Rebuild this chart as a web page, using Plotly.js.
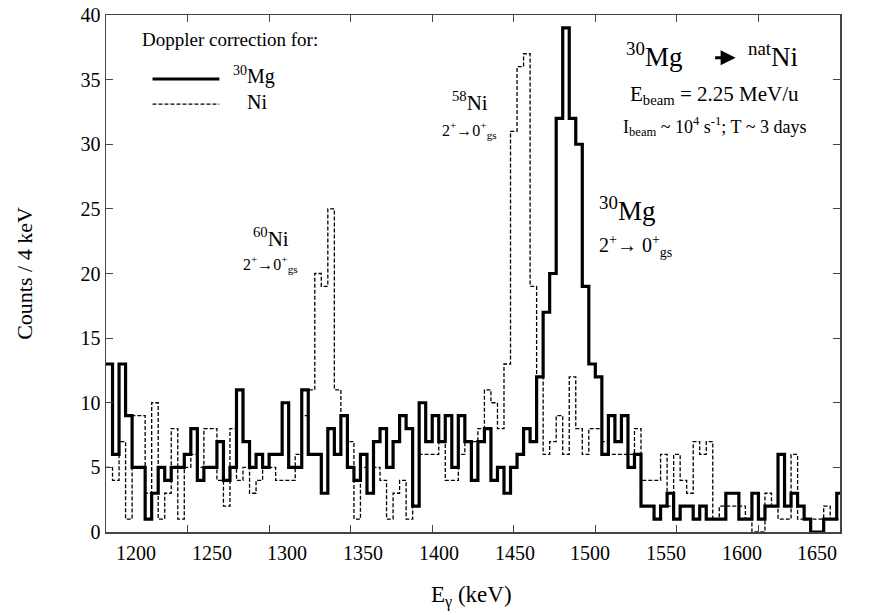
<!DOCTYPE html>
<html>
<head>
<meta charset="utf-8">
<script src="https://cdn.plot.ly/plotly-3.0.1.min.js"></script>
<style>html,body{margin:0;padding:0;background:#fff;}#chart{width:871px;height:615px;}</style>
</head>
<body>
<div id="chart"></div>
<script>
// Histogram binning (keV)
const energyStart = 1200;
const binWidth = 4;

// Counts per 4 keV bin, Doppler corrected for 30Mg (solid)
const mgCounts = [
  13, 6, 13, 9, 5, 5, 1, 3, 5, 4,
  5, 5, 6, 8, 4, 5, 5, 7, 4, 5,
  11, 7, 5, 6, 5, 6, 6, 10, 5, 5,
  11, 6, 6, 3, 8, 6, 9, 5, 4, 6,
  3, 7, 8, 5, 7, 9, 8, 2, 10, 7,
  9, 7, 9, 5, 9, 7, 4, 7, 8, 4,
  5, 3, 5, 6, 8, 7, 12, 17, 20, 32,
  39, 32, 30, 19, 13, 12, 6, 9, 7, 9,
  5, 6, 2, 2, 1, 2, 3, 1, 2, 2,
  1, 2, 1, 1, 1, 3, 3, 1, 1, 3,
  1, 2, 2, 6, 2, 3, 2, 1, 0, 0,
  1, 1, 3
];

// Counts per 4 keV bin, Doppler corrected for Ni (dashed)
const niCounts = [
  5, 4, 7, 1, 9, 9, 3, 10, 1, 3,
  8, 1, 5, 6, 5, 8, 8, 4, 2, 8,
  4, 5, 3, 4, 5, 5, 4, 4, 4, 6,
  9, 11, 20, 19, 25, 11, 9, 7, 1, 5,
  3, 5, 4, 1, 3, 4, 1, 2, 6, 6,
  6, 7, 4, 4, 6, 7, 7, 8, 11, 10,
  8, 13, 31, 36, 37, 19, 12, 6, 7, 9,
  6, 12, 8, 6, 8, 8, 7, 6, 6, 6,
  6, 8, 4, 4, 4, 6, 2, 6, 4, 3,
  7, 6, 7, 1, 2, 2, 2, 2, 1, 0,
  0, 3, 2, 1, 1, 6, 1, 1, 1, 1,
  2, 1, 1
];

const xTickVals = [1200, 1250, 1300, 1350, 1400, 1450, 1500, 1550, 1600, 1650];
const xTickLabels = ['1200', '1250', '1300', '1350', '1400', '1450', '1500', '1550', '1600', '1650'];
const yTickVals = [0, 5, 10, 15, 20, 25, 30, 35, 40];

function stepXY(counts) {
  const xs = [], ys = [];
  counts.forEach((c, i) => { xs.push(energyStart + i * binWidth); ys.push(c); });
  xs.push(energyStart + counts.length * binWidth);
  ys.push(counts[counts.length - 1]);
  return {xs, ys};
}

const mg = stepXY(mgCounts);
const ni = stepXY(niCounts);

const serif = '"Liberation Serif", "Times New Roman", serif';

const traces = [
  {x: ni.xs, y: ni.ys, type: 'scatter', mode: 'lines', line: {shape: 'hv', color: '#000', width: 1.3, dash: '4px,2px'}, showlegend: false, hoverinfo: 'skip'},
  {x: mg.xs, y: mg.ys, type: 'scatter', mode: 'lines', line: {shape: 'hv', color: '#000', width: 3.2}, showlegend: false, hoverinfo: 'skip'}
];

// x tick labels in the reference are spread evenly inside the frame
const labelLeft = 0.041, labelRight = 0.969;
const xLabelAnnotations = xTickLabels.map((t, i) => ({
  xref: 'paper', yref: 'paper', x: labelLeft + (labelRight - labelLeft) * i / (xTickLabels.length - 1), y: -0.041,
  text: t, showarrow: false, xanchor: 'center', yanchor: 'middle', font: {family: serif, size: 20}
}));

const layout = {
  width: 871, height: 615,
  margin: {l: 106, r: 31, t: 15, b: 83},
  paper_bgcolor: '#fff', plot_bgcolor: '#fff',
  font: {family: serif, size: 20, color: '#000'},
  showlegend: false,
  xaxis: {
    range: [1200, 1650], tickvals: xTickVals, showticklabels: false, ticks: 'inside', ticklen: 7, tickcolor: '#444',
    showline: true, linecolor: '#444', linewidth: 1.5, mirror: 'ticks', showgrid: false, zeroline: false
  },
  yaxis: {
    range: [0, 40], tickvals: yTickVals, ticks: 'inside', ticklen: 7, tickcolor: '#444',
    showline: true, linecolor: '#444', linewidth: 1.5, mirror: 'ticks', showgrid: false, zeroline: false,
    tickfont: {family: serif, size: 20},
    title: {text: 'Counts / 4 keV', font: {family: serif, size: 22}, standoff: 42}
  },
  shapes: [
    {type: 'line', xref: 'x', yref: 'y', x0: 1228.5, x1: 1269.5, y0: 35.05, y1: 35.05, line: {color: '#000', width: 3.2}},
    {type: 'line', xref: 'x', yref: 'y', x0: 1228.5, x1: 1269.5, y0: 33.1, y1: 33.1, line: {color: '#000', width: 1.3, dash: '4px,2px'}}
  ],
  annotations: xLabelAnnotations.concat([
    {xref: 'paper', yref: 'paper', x: 0.4986, y: -0.1257, text: 'E<sub>γ</sub> (keV)', showarrow: false, xanchor: 'center', yanchor: 'middle', font: {family: serif, size: 23}},

    {xref: 'x', yref: 'y', x: 1276, y: 38.1, text: 'Doppler correction for:', showarrow: false, xanchor: 'center', yanchor: 'middle', font: {family: serif, size: 19}},
    {xref: 'x', yref: 'y', x: 1276.5, y: 35.3, text: '<sup>30</sup>Mg', showarrow: false, xanchor: 'left', yanchor: 'middle', font: {family: serif, size: 20}},
    {xref: 'x', yref: 'y', x: 1285.5, y: 33.3, text: 'Ni', showarrow: false, xanchor: 'left', yanchor: 'middle', font: {family: serif, size: 20}},

    {xref: 'x', yref: 'y', x: 1517.5, y: 36.9, text: '<sup>30</sup>Mg', showarrow: false, xanchor: 'left', yanchor: 'middle', font: {family: serif, size: 27}},
    {xref: 'x', yref: 'y', x: 1592.5, y: 36.9, text: '<sup>nat</sup>Ni', showarrow: false, xanchor: 'left', yanchor: 'middle', font: {family: serif, size: 27}},
    {xref: 'x', yref: 'y', x: 1586, y: 36.7, ax: -22, ay: 0, axref: 'pixel', ayref: 'pixel', text: '', showarrow: true, arrowhead: 2, arrowsize: 1, arrowwidth: 3, arrowcolor: '#000'},
    {xref: 'x', yref: 'y', x: 1573, y: 33.8, text: 'E<sub>beam</sub> = 2.25 MeV/u', showarrow: false, xanchor: 'center', yanchor: 'middle', font: {family: serif, size: 21}},
    {xref: 'x', yref: 'y', x: 1573, y: 31.4, text: 'I<sub>beam</sub> ~ 10<sup>4</sup> s<sup>-1</sup>; T ~ 3 days', showarrow: false, xanchor: 'center', yanchor: 'middle', font: {family: serif, size: 18}},

    {xref: 'x', yref: 'y', x: 1501, y: 25.0, text: '<sup>30</sup>Mg', showarrow: false, xanchor: 'left', yanchor: 'middle', font: {family: serif, size: 27}},
    {xref: 'x', yref: 'y', x: 1501, y: 22.1, text: '2<sup>+</sup>→ 0<sup>+</sup><sub>gs</sub>', showarrow: false, xanchor: 'left', yanchor: 'middle', font: {family: serif, size: 20}},

    {xref: 'x', yref: 'y', x: 1423, y: 33.3, text: '<sup>58</sup>Ni', showarrow: false, xanchor: 'center', yanchor: 'middle', font: {family: serif, size: 21}},
    {xref: 'x', yref: 'y', x: 1423, y: 31.1, text: '2<sup>+</sup>→0<sup>+</sup><sub>gs</sub>', showarrow: false, xanchor: 'center', yanchor: 'middle', font: {family: serif, size: 16}},

    {xref: 'x', yref: 'y', x: 1301, y: 22.8, text: '<sup>60</sup>Ni', showarrow: false, xanchor: 'center', yanchor: 'middle', font: {family: serif, size: 21}},
    {xref: 'x', yref: 'y', x: 1301, y: 20.7, text: '2<sup>+</sup>→0<sup>+</sup><sub>gs</sub>', showarrow: false, xanchor: 'center', yanchor: 'middle', font: {family: serif, size: 16}}
  ])
};

Plotly.newPlot('chart', traces, layout, {staticPlot: true, displayModeBar: false});
</script>
</body>
</html>
